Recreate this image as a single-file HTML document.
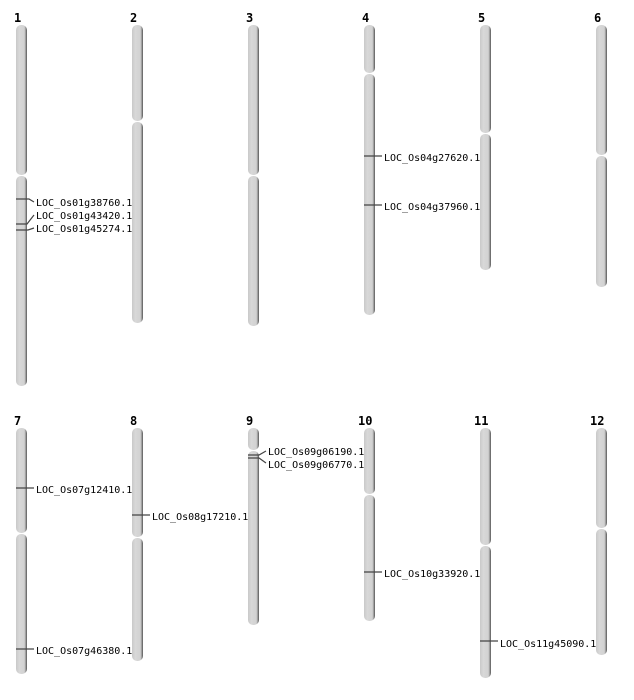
<!DOCTYPE html>
<html><head><meta charset="utf-8"><style>body{margin:0;background:#fff}svg{display:block}</style></head><body>
<svg width="634" height="700" xmlns="http://www.w3.org/2000/svg" font-family="'DejaVu Sans Mono','Liberation Mono',monospace">
<defs><linearGradient id="g" x1="0" x2="1" y1="0" y2="0">
<stop offset="0" stop-color="#c9c9c9"/><stop offset="0.3" stop-color="#d8d8d8"/><stop offset="0.75" stop-color="#d2d2d2"/><stop offset="0.85" stop-color="#aaa"/><stop offset="1" stop-color="#555"/></linearGradient></defs>
<g fill="url(#g)">
<rect x="16" y="25" width="11" height="150" rx="5"/><rect x="16" y="176" width="11" height="210" rx="5"/>
<rect x="132" y="25" width="11" height="96" rx="5"/><rect x="132" y="122" width="11" height="201" rx="5"/>
<rect x="248" y="25" width="11" height="150" rx="5"/><rect x="248" y="176" width="11" height="150" rx="5"/>
<rect x="364" y="25" width="11" height="48" rx="5"/><rect x="364" y="74" width="11" height="241" rx="5"/>
<rect x="480" y="25" width="11" height="108" rx="5"/><rect x="480" y="134" width="11" height="136" rx="5"/>
<rect x="596" y="25" width="11" height="130" rx="5"/><rect x="596" y="156" width="11" height="131" rx="5"/>
<rect x="16" y="428" width="11" height="105" rx="5"/><rect x="16" y="534" width="11" height="140" rx="5"/>
<rect x="132" y="428" width="11" height="109" rx="5"/><rect x="132" y="538" width="11" height="123" rx="5"/>
<rect x="248" y="428" width="11" height="22" rx="5"/><rect x="248" y="451" width="11" height="174" rx="5"/>
<rect x="364" y="428" width="11" height="66" rx="5"/><rect x="364" y="495" width="11" height="126" rx="5"/>
<rect x="480" y="428" width="11" height="117" rx="5"/><rect x="480" y="546" width="11" height="132" rx="5"/>
<rect x="596" y="428" width="11" height="100" rx="5"/><rect x="596" y="529" width="11" height="126" rx="5"/>
</g>
<g font-size="12" font-weight="bold" fill="#000">
<text x="14" y="22">1</text><text x="130" y="22">2</text><text x="246" y="22">3</text><text x="362" y="22">4</text><text x="478" y="22">5</text><text x="594" y="22">6</text>
<text x="14" y="425">7</text><text x="130" y="425">8</text><text x="246" y="425">9</text><text x="358" y="425">10</text><text x="474" y="425">11</text><text x="590" y="425">12</text>
</g>
<g stroke="#444" stroke-width="1.2" fill="none">
<path d="M16 199H29L34 202"/><path d="M16 224H27L34 215"/><path d="M16 230H28L34 228"/>
<path d="M364 156H382"/><path d="M364 205H382"/>
<path d="M16 488H34"/><path d="M16 649H34"/><path d="M132 515H150"/>
<path d="M248 455H259L266 451"/><path d="M248 458H259L266 463"/>
<path d="M364 572H382"/><path d="M480 641H498"/>
</g>
<g font-size="10" fill="#000">
<text x="36" y="206">LOC_Os01g38760.1</text><text x="36" y="219">LOC_Os01g43420.1</text><text x="36" y="232">LOC_Os01g45274.1</text>
<text x="384" y="161">LOC_Os04g27620.1</text><text x="384" y="210">LOC_Os04g37960.1</text>
<text x="36" y="493">LOC_Os07g12410.1</text><text x="36" y="654">LOC_Os07g46380.1</text>
<text x="152" y="520">LOC_Os08g17210.1</text>
<text x="268" y="455">LOC_Os09g06190.1</text><text x="268" y="468">LOC_Os09g06770.1</text>
<text x="384" y="577">LOC_Os10g33920.1</text><text x="500" y="647">LOC_Os11g45090.1</text>
</g>
</svg>
</body></html>
